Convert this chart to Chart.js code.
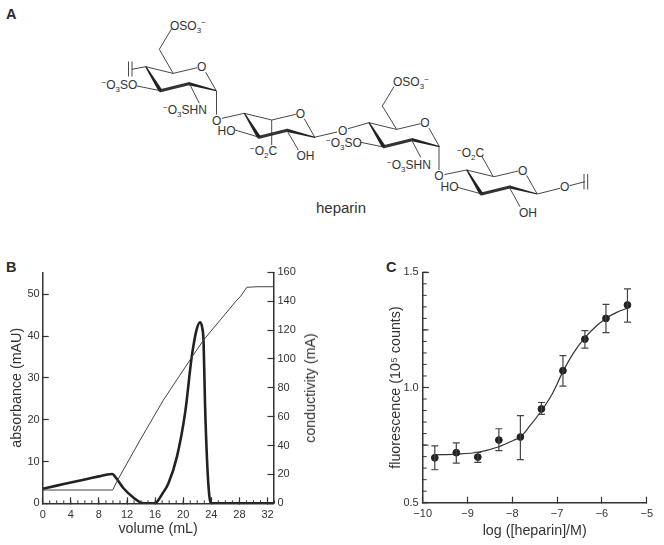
<!DOCTYPE html>
<html><head><meta charset="utf-8">
<style>
html,body{margin:0;padding:0;background:#fff;width:664px;height:545px;overflow:hidden;font-family:"Liberation Sans",Arial,sans-serif;color:#2b2b2b}
.panel{position:absolute;font-weight:bold;font-size:14.5px;line-height:16px}
canvas{position:absolute}
#structure{position:absolute;left:0;top:0}
#structure line,#structure path{stroke:#333;fill:none;stroke-width:.9}
#structure .bold{stroke-width:3;stroke-linejoin:round;stroke-linecap:round}
#structure .wedge{fill:#222;stroke:none}
#structure text{font-size:12px;fill:#333;font-family:"Liberation Sans",Arial,sans-serif}
#structure .c{text-anchor:middle}
.s{font-size:8px}
#condTitle{position:absolute;left:309.5px;top:388px;transform:translate(-50%,-50%) rotate(-90deg);font-size:14.3px;white-space:nowrap;color:#333}
</style>
<script src="https://cdn.jsdelivr.net/npm/chart.js@4"></script>
</head><body>
<div class="panel" style="left:6px;top:6px">A</div>
<div class="panel" style="left:6px;top:259px">B</div>
<div class="panel" style="left:386px;top:259px">C</div>

<!-- Panel A: the heparin formula is a drawn diagram, not data -->
<svg id="structure" width="664" height="250" xmlns="http://www.w3.org/2000/svg">
<defs><g id="ring">
<path d="M0 0L27.5 6.7L51.5 1"/><path d="M60 5.5L70.5 24"/>
<path class="wedge" d="M70.5 23.4L43 15.4L43 18.6L70.5 24.6Z"/>
<path class="bold" d="M43 17L14.7 24"/>
<path class="wedge" d="M-.6 0L12.8 24.6L16.6 23.4L.6 -.4Z"/>
<text class="c" x="56" y="4.5">O</text>
</g></defs>
<use href="#ring" x="145.7" y="66.7"/><use href="#ring" x="244.3" y="113.3"/>
<use href="#ring" x="369" y="122.7"/><use href="#ring" x="466.7" y="170"/>

<path d="M173.2 73.4L159.3 49.3L171.5 29"/>
<line x1="145.7" y1="66.7" x2="132" y2="69.3"/><line x1="128.5" y1="61.5" x2="128.5" y2="76.5"/><line x1="132" y1="61.5" x2="132" y2="76.5"/>
<line x1="160.4" y1="90.7" x2="137" y2="86"/>
<line x1="189.3" y1="83.4" x2="199.3" y2="103.3"/>
<line x1="216.5" y1="90.7" x2="216.5" y2="114.5"/>
<line x1="222" y1="118.3" x2="244.3" y2="113.3"/>
<line x1="271.7" y1="120" x2="271.7" y2="145"/>
<line x1="259.3" y1="137.3" x2="235" y2="130"/>
<line x1="287" y1="130.7" x2="298.3" y2="150"/>
<line x1="314.3" y1="137.3" x2="337" y2="132"/>
<line x1="348" y1="128.7" x2="369" y2="122.7"/>
<path d="M396.7 129.4L382.3 106L394 86.7"/>
<line x1="383.7" y1="147" x2="360.5" y2="142.3"/>
<line x1="411.7" y1="140" x2="420.7" y2="157.3"/>
<line x1="439" y1="147.3" x2="439" y2="170"/>
<line x1="444.5" y1="174.5" x2="466.7" y2="170"/>
<path d="M493.3 176.7L481.7 156"/>
<line x1="481.7" y1="194" x2="457.5" y2="187.3"/>
<line x1="509" y1="186.7" x2="520" y2="206.7"/>
<line x1="537.3" y1="194" x2="560" y2="188.3"/>
<line x1="569.5" y1="185.7" x2="585" y2="181.7"/>
<line x1="584" y1="174" x2="584" y2="189.5"/><line x1="587.7" y1="174" x2="587.7" y2="189.5"/>

<text x="170" y="29.5">OSO<tspan class="s" dy="3">3</tspan><tspan class="s" dy="-7.5">−</tspan></text>
<text x="101.5" y="88.5"><tspan class="s" dy="-4">−</tspan><tspan dy="4">O</tspan><tspan class="s" dy="3">3</tspan><tspan dy="-3">SO</tspan></text>
<text x="163" y="113.5"><tspan class="s" dy="-4">−</tspan><tspan dy="4">O</tspan><tspan class="s" dy="3">3</tspan><tspan dy="-3">SHN</tspan></text>
<text class="c" x="216.7" y="124.5">O</text>
<text x="217.5" y="135">HO</text>
<text x="250" y="154.5"><tspan class="s" dy="-4">−</tspan><tspan dy="4">O</tspan><tspan class="s" dy="3">2</tspan><tspan dy="-3">C</tspan></text>
<text x="296.5" y="159.5">OH</text>
<text class="c" x="342.7" y="134.5">O</text>
<text x="393" y="86">OSO<tspan class="s" dy="3">3</tspan><tspan class="s" dy="-7.5">−</tspan></text>
<text x="326" y="146.8"><tspan class="s" dy="-4">−</tspan><tspan dy="4">O</tspan><tspan class="s" dy="3">3</tspan><tspan dy="-3">SO</tspan></text>
<text x="387" y="168.5"><tspan class="s" dy="-4">−</tspan><tspan dy="4">O</tspan><tspan class="s" dy="3">3</tspan><tspan dy="-3">SHN</tspan></text>
<text class="c" x="439" y="180">O</text>
<text x="457" y="157"><tspan class="s" dy="-4">−</tspan><tspan dy="4">O</tspan><tspan class="s" dy="3">2</tspan><tspan dy="-3">C</tspan></text>
<text x="440.5" y="191">HO</text>
<text x="519" y="216.5">OH</text>
<text class="c" x="564.7" y="191">O</text>
<text x="316" y="213" style="font-size:15px">heparin</text>
</svg>

<canvas id="chartB" width="330" height="290" style="left:0;top:255px"></canvas>
<div id="condTitle">conductivity (mA)</div>
<canvas id="chartC" width="294" height="290" style="left:370px;top:255px"></canvas>

<script>
// Panel B: values
const volumeAbs = [0,2,4,6,8,9.2,9.9,10.3,11.5,12.9,14.3,16,16.3,17,17.9,19.1,20.3,21.2,21.9,22.4,22.7,22.9,23.1,23.4,23.7,23.95,32.85];
const absorbance = [3.5,4.23,4.97,5.7,6.44,6.88,7,6.4,3.6,1.4,0,0,.4,2.2,4.8,11.1,22,34.9,41.5,43.3,42,38.5,24,10,2,0,0];
const volumeCond = [0,9.97,10.54,13.86,17.18,21.2,22.88,27.64,28.1,29.06,30.5,32.85];
const conductivity = [9.2,9.2,15,43.8,71.5,101,113,140.8,143,149.6,150,150];
const absorbanceTicksStep = 10, conductivityTicksStep = 20, volumeTicksStep = 4, volumeMinorStep = 1;

// Panel C: values
const logConc = [-9.73,-9.25,-8.77,-8.30,-7.82,-7.35,-6.87,-6.38,-5.91,-5.43];
const fluorescence = [.695,.717,.698,.772,.785,.907,1.073,1.21,1.30,1.358];
const fluorUpper = [.747,.76,.718,.821,.878,.935,1.138,1.247,1.361,1.428];
const fluorLower = [.643,.672,.675,.726,.687,.883,1.006,1.171,1.238,1.284];
const fitX = [-9.73,-9.25,-8.77,-8.30,-7.97,-7.82,-7.61,-7.35,-7.11,-6.87,-6.64,-6.38,-6.10,-5.91,-5.67,-5.43];
const fitY = [.708,.711,.719,.743,.771,.785,.833,.899,.972,1.069,1.148,1.216,1.271,1.30,1.326,1.344];

const INK = '#333';
const tickFont = {family:'"Liberation Sans",Arial,sans-serif',size:11};
const titleFont = {family:'"Liberation Sans",Arial,sans-serif',size:14.3};
const minus = v => String(v).replace('-', '\u2212');

// inward minor ticks, positioned through the scales
const minorTicks = {id:'minorTicks', afterDatasetsDraw(chart, args, opts){
  const c = chart.ctx; c.save(); c.strokeStyle = INK; c.lineWidth = 1;
  for (const t of opts.list || []) {
    const s = chart.scales[t.scale];
    const n = Math.round((s.max - s.min) / t.step + 1e-6);
    for (let i = 0; i <= n; i++) {
      const p = s.getPixelForValue(s.min + i * t.step);
      c.beginPath();
      if (t.scale === 'x') { c.moveTo(p, s.top); c.lineTo(p, s.top - t.len); }
      else if (s.position === 'left') { c.moveTo(s.right, p); c.lineTo(s.right + t.len, p); }
      else { c.moveTo(s.left, p); c.lineTo(s.left - t.len, p); }
      c.stroke();
    }
  }
  c.restore();
}};

// vertical error bars, positioned through the scales
const errorBars = {id:'errorBars', afterDatasetsDraw(chart){
  const c = chart.ctx, X = chart.scales.x, Y = chart.scales.y;
  c.save(); c.strokeStyle = '#444'; c.lineWidth = 1.2;
  logConc.forEach((v,i) => {
    const x = X.getPixelForValue(v), a = Y.getPixelForValue(fluorUpper[i]), b = Y.getPixelForValue(fluorLower[i]);
    c.beginPath();
    c.moveTo(x,a); c.lineTo(x,b);
    c.moveTo(x-3.5,a); c.lineTo(x+3.5,a);
    c.moveTo(x-3.5,b); c.lineTo(x+3.5,b);
    c.stroke();
  });
  c.restore();
}};

const axisBase = (extra) => Object.assign({
  border:{color:INK,width:1.5},
  grid:{drawOnChartArea:false,color:INK,tickColor:INK,tickLength:-6,tickWidth:1.2},
}, extra);

new Chart(document.getElementById('chartB'), {
  type:'scatter',
  plugins:[minorTicks],
  data:{datasets:[
    {data:volumeCond.map((x,i)=>({x,y:conductivity[i]})),yAxisID:'y2',showLine:true,borderColor:'#444',borderWidth:1,pointRadius:0},
    {data:volumeAbs.map((x,i)=>({x,y:absorbance[i]})),yAxisID:'y',showLine:true,borderColor:'#222',borderWidth:2.6,pointRadius:0,cubicInterpolationMode:'monotone'}
  ]},
  options:{
    responsive:false,animation:false,
    layout:{padding:{top:17.3,left:0,right:0,bottom:0}},
    plugins:{legend:{display:false},tooltip:{enabled:false},minorTicks:{list:[{scale:'x',step:volumeMinorStep,len:3}]}},
    scales:{
      x:axisBase({type:'linear',min:0,max:32.85,afterFit:s=>{s.height=41.7;},
        ticks:{stepSize:volumeTicksStep,includeBounds:false,color:INK,font:tickFont,padding:11,maxRotation:0},
        title:{display:true,text:'volume (mL)',color:INK,font:titleFont,padding:{top:0,bottom:7.5}}}),
      y:axisBase({type:'linear',position:'left',min:0,max:55.26,afterFit:s=>{s.width=42.7;},
        ticks:{stepSize:absorbanceTicksStep,includeBounds:false,color:INK,font:tickFont,padding:9},
        title:{display:true,text:'absorbance (mAU)',color:INK,font:titleFont,padding:{top:8,bottom:0}}}),
      y2:axisBase({type:'linear',position:'right',min:0,max:160,afterFit:s=>{s.width=56.5;},
        ticks:{stepSize:conductivityTicksStep,includeBounds:false,color:INK,font:tickFont,padding:10}})
    }
  }
});

new Chart(document.getElementById('chartC'), {
  type:'scatter',
  plugins:[minorTicks,errorBars],
  data:{datasets:[
    {data:logConc.map((x,i)=>({x,y:fluorescence[i]})),showLine:false,backgroundColor:'#222',borderColor:'#222',pointRadius:3.4},
    {data:fitX.map((x,i)=>({x,y:fitY[i]})),showLine:true,borderColor:'#333',borderWidth:1.2,pointRadius:0,cubicInterpolationMode:'monotone'}
  ]},
  options:{
    responsive:false,animation:false,
    layout:{padding:{top:17.3,left:0,right:9.7,bottom:0}},
    plugins:{legend:{display:false},tooltip:{enabled:false},
      minorTicks:{list:[{scale:'y',step:.05,len:4},{scale:'y',step:.25,len:6}]}},
    scales:{
      x:axisBase({type:'linear',min:-10,max:-5,afterFit:s=>{s.height=42.3;},
        ticks:{stepSize:1,color:INK,font:tickFont,padding:11,maxRotation:0,callback:minus},
        title:{display:true,text:'log ([heparin]/M)',color:INK,font:titleFont,padding:{top:0,bottom:5.5}}}),
      y:axisBase({type:'linear',position:'left',min:.5,max:1.5,afterFit:s=>{s.width=52.7;},
        ticks:{stepSize:.5,color:INK,font:tickFont,padding:10,callback:v=>v.toFixed(1)},
        title:{display:true,text:'fluorescence (10\u2075 counts)',color:INK,font:titleFont,padding:{top:17,bottom:0}}})
    }
  }
});
</script>
</body></html>
